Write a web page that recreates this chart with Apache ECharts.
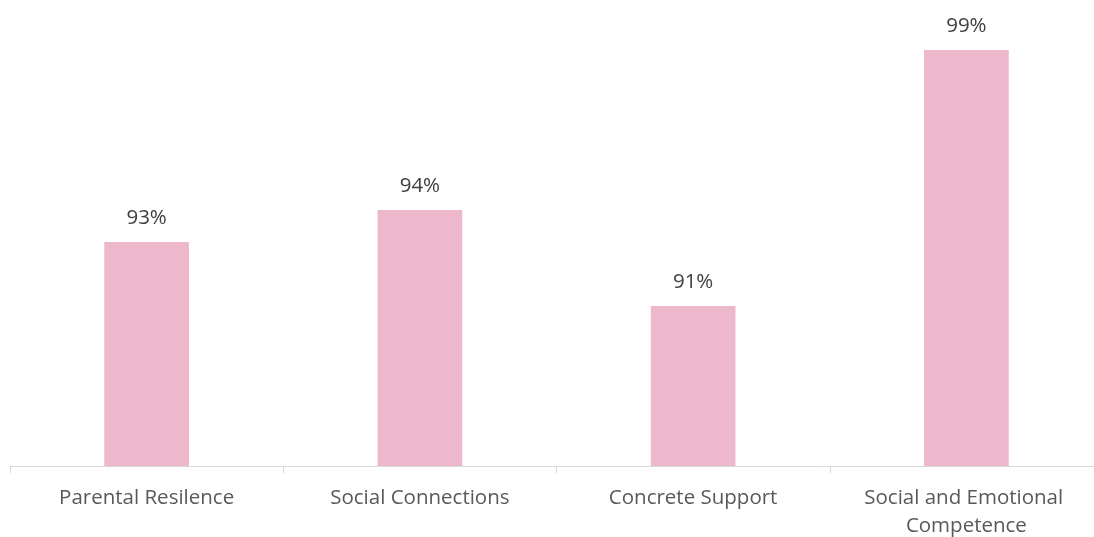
<!DOCTYPE html>
<html>
<head>
<meta charset="utf-8">
<script src="https://cdn.jsdelivr.net/npm/echarts@6/dist/echarts.min.js"></script>
<style>
  html, body { margin: 0; padding: 0; background: #fff; }
  #chart { width: 1094px; height: 537px; }
</style>
</head>
<body>
<div id="chart"></div>
<script>
const categories = ['Parental Resilence', 'Social Connections', 'Concrete Support', 'Social and Emotional Competence'];
const values = [93, 94, 91, 99];

const chart = echarts.init(document.getElementById('chart'));

const option = {
  animation: false,
  grid: { left: 10, right: -9, top: 18, bottom: 71, containLabel: false, outerBoundsMode: 'none' },
  xAxis: {
    type: 'category',
    data: categories,
    axisLine: { lineStyle: { color: '#d9d9d9', width: 1 } },
    axisTick: { show: true, length: 7, lineStyle: { color: '#d9d9d9' } },
    axisLabel: {
      color: '#595959',
      fontFamily: 'Open Sans',
      fontSize: 20.5,
      margin: 18,
      lineHeight: 28,
      width: 250,
      overflow: 'break',
      interval: 0,
    },
  },
  yAxis: {
    type: 'value',
    min: 86,
    max: 100,
    show: false,
  },
  series: [
    {
      type: 'bar',
      data: values,
      barWidth: '31%',
      itemStyle: { color: '#edb8cc' },
      label: {
        show: true,
        position: 'top',
        distance: 13,
        formatter: '{c}%',
        color: '#404040',
        fontFamily: 'Open Sans',
        fontSize: 20.5,
      },
    },
  ],
};

chart.setOption(option);
</script>
</body>
</html>
